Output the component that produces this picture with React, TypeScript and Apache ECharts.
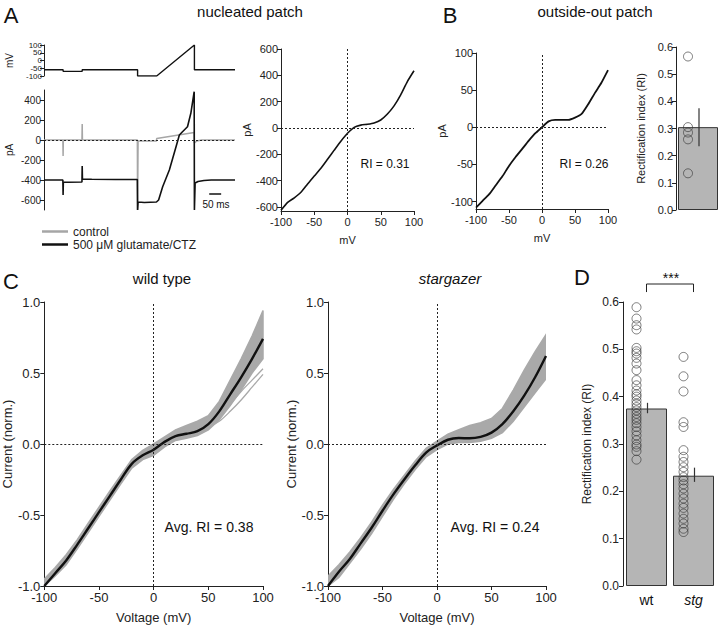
import React, { useEffect, useRef } from 'react';
import * as echarts from 'echarts';

const FONT = "'Liberation Sans', Arial, Helvetica, sans-serif";

// ---- Panel A: voltage protocol (time in ms, mV)
const PROTOCOL_T = [0, 80, 80, 160, 160, 392, 392, 472, 630, 630, 800];
const PROTOCOL_MV = [-60, -60, -70, -70, -60, -60, -100, -100, 100, -60, -60];
const PROTOCOL_TICKS_MAJOR = [-100, 0, 100];
const PROTOCOL_TICKS_MINOR = [-50, 50];

// ---- Panel A: current traces (time in ms, pA)
const CTRL_T = [0, 79, 80, 81, 159, 160, 161, 391, 392, 394, 471, 472, 629, 630, 640, 660, 800];
const CTRL_PA = [0, 0, -160, 0, 0, 160, 0, 0, -700, -10, -10, 15, 75, -30, -10, 0, 0];
const GLU_T = [0, 79, 80, 81, 100, 159, 160, 161, 200, 300, 391, 392, 394, 420, 471, 480, 497, 525, 553, 567, 580, 601, 615, 629, 630, 633, 645, 670, 700, 800];
const GLU_PA = [-400, -400, -550, -420, -422, -420, -260, -390, -392, -395, -395, -700, -620, -625, -620, -600, -467, -300, -67, 50, 83, 133, 267, 483, -700, -430, -415, -405, -400, -400];
const SCALE_BAR_T = [692, 742];
const SCALE_BAR_PA = -540;

// ---- I-V curves (mV)
const IV_V = [-100, -90, -80, -70, -60, -50, -40, -30, -20, -10, 0, 10, 20, 30, 40, 50, 60, 70, 80, 90, 100];
const A_IV_PA = [-625, -565, -530, -488, -425, -365, -305, -237, -168, -100, -40, 5, 22, 29, 39, 61, 106, 168, 252, 353, 435];
const B_IV_PA = [-108, -99, -90, -78, -66, -52, -40, -29, -18, -8, 0, 8, 10, 10, 10, 13, 18, 31, 46, 60, 77];

// ---- Panel B bar
const B_CATS = ['B'];
const B_MEAN = [0.305];
const B_ERR = [[0.235, 0.375]];
const B_RI = [0.565, 0.305, 0.285, 0.26, 0.135];

// ---- Panel C normalized I-V
const WT_MEAN = [-1.0, -0.91, -0.82, -0.71, -0.595, -0.48, -0.365, -0.25, -0.14, -0.08, -0.04, 0.015, 0.055, 0.072, 0.09, 0.14, 0.23, 0.35, 0.47, 0.6, 0.74];
const WT_LOW = [-1.0, -0.93, -0.85, -0.74, -0.625, -0.51, -0.395, -0.28, -0.17, -0.11, -0.08, -0.02, 0.025, 0.04, 0.06, 0.1, 0.17, 0.27, 0.38, 0.5, 0.6];
const WT_HIGH = [-0.95, -0.87, -0.78, -0.675, -0.56, -0.445, -0.33, -0.22, -0.11, -0.045, 0.0, 0.05, 0.1, 0.13, 0.16, 0.2, 0.3, 0.45, 0.6, 0.76, 0.94];
const WT_OUT_V = [40, 50, 60, 70, 80, 90, 100];
const WT_OUT1 = [0.1, 0.12, 0.16, 0.23, 0.31, 0.4, 0.49];
const WT_OUT2 = [0.11, 0.14, 0.2, 0.28, 0.37, 0.45, 0.53];

const STG_MEAN = [-1.0, -0.9, -0.81, -0.7, -0.59, -0.47, -0.355, -0.25, -0.15, -0.06, -0.01, 0.03, 0.042, 0.04, 0.05, 0.08, 0.14, 0.23, 0.34, 0.47, 0.62];
const STG_LOW = [-1.0, -0.94, -0.84, -0.74, -0.63, -0.51, -0.39, -0.28, -0.18, -0.09, -0.04, 0.0, 0.01, 0.01, 0.02, 0.04, 0.08, 0.16, 0.26, 0.36, 0.46];
const STG_HIGH = [-0.93, -0.85, -0.76, -0.66, -0.55, -0.43, -0.32, -0.22, -0.12, -0.03, 0.02, 0.07, 0.1, 0.13, 0.15, 0.18, 0.25, 0.38, 0.52, 0.65, 0.77];

// ---- Panel D
const D_CATS = ['wt', 'stg'];
const D_MEAN = [0.375, 0.233];
const D_ERR = [[0.365, 0.387], [0.22, 0.25]];
const WT_RI = [0.589, 0.565, 0.551, 0.542, 0.503, 0.496, 0.491, 0.482, 0.47, 0.456, 0.435, 0.424, 0.413, 0.405, 0.4, 0.392, 0.385, 0.378, 0.371, 0.364, 0.357, 0.351, 0.344, 0.336, 0.327, 0.318, 0.308, 0.299, 0.294, 0.285, 0.267];
const STG_RI = [0.484, 0.443, 0.411, 0.346, 0.336, 0.287, 0.273, 0.262, 0.251, 0.241, 0.23, 0.223, 0.215, 0.206, 0.195, 0.185, 0.174, 0.165, 0.153, 0.142, 0.132, 0.121, 0.114];
const BRACKET_Y = [0.621, 0.638];

const zip = (a: number[], b: number[]) => a.map((v, i) => [v, b[i]]);

function vAxis(grid: number, min: number, max: number, o: any = {}) {
  return {
    type: 'value',
    gridIndex: grid,
    min,
    max,
    interval: o.interval,
    position: o.position,
    show: o.show !== false,
    name: o.name,
    nameLocation: 'middle',
    nameGap: o.nameGap,
    nameTextStyle: { fontSize: o.nameSize || 11, color: '#222', fontFamily: FONT },
    axisLine: { show: o.line !== false, onZero: false, lineStyle: { color: '#222', width: 1 } },
    axisTick: { show: true, length: 4, lineStyle: { color: '#222', width: 1 }, customValues: o.ticks },
    axisLabel: {
      fontSize: o.fs || 11,
      lineHeight: o.lh,
      color: '#222',
      fontFamily: FONT,
      margin: o.margin ?? 3,
      customValues: o.ticks,
      formatter: o.fmt,
      showMinLabel: true,
      showMaxLabel: true,
      hideOverlap: false,
    },
    splitLine: { show: false },
  };
}

const zeroLines = (both: boolean) => ({
  symbol: ['none', 'none'],
  silent: true,
  label: { show: false },
  lineStyle: { type: [2, 2], color: '#222', width: 1 },
  data: both ? [{ yAxis: 0 }, { xAxis: 0 }] : [{ yAxis: 0 }],
});

function txt(text: string, x: number, y: number, size: number, extra: any = {}) {
  return {
    type: 'text',
    x,
    y,
    silent: true,
    style: {
      text,
      fontSize: size,
      fontFamily: FONT,
      fontWeight: 'normal',
      fill: '#111',
      align: 'center',
      verticalAlign: 'middle',
      textAlign: 'center',
      textVerticalAlign: 'middle',
      ...extra,
    },
  };
}

function band(idx: number, low: number[], high: number[]) {
  return {
    type: 'custom',
    xAxisIndex: idx,
    yAxisIndex: idx,
    silent: true,
    clip: true,
    z: 1,
    data: [[IV_V[0], low[0]]],
    renderItem: (_p: any, api: any) => {
      const up = IV_V.map((v, i) => api.coord([v, high[i]]));
      const dn = IV_V.map((v, i) => api.coord([v, low[i]])).reverse();
      return { type: 'polygon', shape: { points: up.concat(dn) }, style: { fill: '#a9a9a9', stroke: '#a9a9a9', lineWidth: 1.5 } };
    },
  };
}

function errBars(idx: number, cats: string[], err: number[][]) {
  return {
    type: 'custom',
    xAxisIndex: idx,
    yAxisIndex: idx,
    silent: true,
    z: 5,
    encode: { x: 0, y: [1, 2] },
    data: cats.map((c, i) => [c, err[i][0], err[i][1]]),
    renderItem: (_p: any, api: any) => {
      const x = api.value(0);
      const p1 = api.coord([x, api.value(1)]);
      const p2 = api.coord([x, api.value(2)]);
      return { type: 'line', shape: { x1: p1[0] + 1, y1: p1[1], x2: p2[0] + 1, y2: p2[1] }, style: { stroke: '#333', lineWidth: 1.2 } };
    },
  };
}

const circleStyle = { color: 'rgba(0,0,0,0)', borderColor: '#333', borderWidth: 0.8 };

function buildOption(): any {
  const grids = [
    { left: 44, top: 45, width: 191, height: 31 },
    { left: 44, top: 90, width: 191, height: 120 },
    { left: 281, top: 49, width: 133, height: 162 },
    { left: 476, top: 53, width: 132, height: 156 },
    { left: 676, top: 47, width: 44, height: 163 },
    { left: 44, top: 302, width: 219, height: 284 },
    { left: 328, top: 302, width: 218, height: 284 },
    { left: 623, top: 302, width: 94, height: 284 },
  ];
  const catAxis = (grid: number, data: string[], show: boolean) => ({
    type: 'category',
    gridIndex: grid,
    data,
    axisLine: { show: false },
    axisTick: { show: false },
    splitLine: { show: false },
    axisLabel: {
      show,
      margin: 7,
      color: '#111',
      formatter: (v: string) => (v === 'stg' ? '{i|stg}' : '{n|' + v + '}'),
      rich: { i: { fontStyle: 'italic', fontSize: 14, fontFamily: FONT, color: '#111' }, n: { fontSize: 14, fontFamily: FONT, color: '#111' } },
    },
  });
  const xAxis = [
    { ...vAxis(0, 0, 800), show: false },
    { ...vAxis(1, 0, 800), show: false },
    vAxis(2, -100, 100, { interval: 50, name: 'mV', nameGap: 23, margin: 5 }),
    vAxis(3, -100, 100, { interval: 50, name: 'mV', nameGap: 23, margin: 5 }),
    catAxis(4, B_CATS, false),
    vAxis(5, -100, 100, { interval: 50, name: 'Voltage (mV)', nameGap: 25, nameSize: 13, fs: 13, margin: 5 }),
    vAxis(6, -100, 100, { interval: 50, name: 'Voltage (mV)', nameGap: 25, nameSize: 13, fs: 13, margin: 5 }),
    catAxis(7, D_CATS, true),
  ];
  const cfmt = (v: number) => v.toFixed(1);
  const yAxis = [
    vAxis(0, -100, 100, { ticks: PROTOCOL_TICKS_MAJOR, position: 'left', name: 'mV', nameGap: 30, fs: 8, lh: 8, margin: 2, nameSize: 10 }),
    vAxis(1, -700, 500, { ticks: [-600, -400, -200, 0, 200, 400], name: 'pA', nameGap: 30, fs: 10, nameSize: 10 }),
    vAxis(2, -630, 600, { ticks: [-600, -400, -200, 0, 200, 400, 600], name: 'pA', nameGap: 23 }),
    vAxis(3, -110, 100, { ticks: [-100, -50, 0, 50, 100], name: 'pA', nameGap: 20 }),
    vAxis(4, 0, 0.6, { interval: 0.1, fmt: cfmt, name: 'Rectification index (RI)', nameGap: 30 }),
    vAxis(5, -1, 1, { interval: 0.5, fmt: cfmt, name: 'Current (norm.)', nameGap: 29, nameSize: 13, fs: 13, margin: 4 }),
    vAxis(6, -1, 1, { interval: 0.5, fmt: cfmt, name: 'Current (norm.)', nameGap: 29, nameSize: 13, fs: 13, margin: 4 }),
    vAxis(7, 0, 0.6, { interval: 0.1, fmt: cfmt, name: 'Rectification index (RI)', nameGap: 30, nameSize: 12, fs: 12, margin: 4 }),
    // second label set for the crowded protocol axis (same scale, same grid, same side)
    vAxis(0, -100, 100, { ticks: PROTOCOL_TICKS_MINOR, position: 'left', fs: 8, lh: 8, margin: 2, line: false }),
  ];

  const line = (idx: number, data: any[], color: string, width: number, extra: any = {}) => ({
    type: 'line',
    xAxisIndex: idx,
    yAxisIndex: idx,
    data,
    symbol: 'none',
    silent: true,
    lineStyle: { color, width },
    itemStyle: { color },
    ...extra,
  });

  const series: any[] = [
    line(0, zip(PROTOCOL_T, PROTOCOL_MV), '#111', 1.4),
    line(1, zip(CTRL_T, CTRL_PA), '#a6a6a6', 1.5, { name: 'control', markLine: zeroLines(false), z: 2 }),
    line(1, zip(GLU_T, GLU_PA), '#111', 1.6, { name: '500 μM glutamate/CTZ', z: 3 }),
    line(1, SCALE_BAR_T.map((t) => [t, SCALE_BAR_PA]), '#111', 1.3),
    line(2, zip(IV_V, A_IV_PA), '#111', 1.6, { smooth: 0.2, markLine: zeroLines(true) }),
    line(3, zip(IV_V, B_IV_PA), '#111', 1.8, { smooth: 0.2, markLine: zeroLines(true) }),
    {
      type: 'bar', xAxisIndex: 4, yAxisIndex: 4, data: B_MEAN, barWidth: 40, silent: true, z: 2,
      itemStyle: { color: '#b5b5b5', borderColor: '#333', borderWidth: 1 },
    },
    {
      type: 'scatter', xAxisIndex: 4, yAxisIndex: 4, data: B_RI.map((v) => [B_CATS[0], v]), symbol: 'circle', symbolSize: 9,
      symbolOffset: [-10, 0], itemStyle: circleStyle, silent: true, z: 3,
    },
    errBars(4, B_CATS, B_ERR),
    band(5, WT_LOW, WT_HIGH),
    line(5, zip(WT_OUT_V, WT_OUT1), '#a9a9a9', 1.3, { smooth: 0.3, z: 1 }),
    line(5, zip(WT_OUT_V, WT_OUT2), '#a9a9a9', 1.3, { smooth: 0.3, z: 1 }),
    line(5, zip(IV_V, WT_MEAN), '#111', 2.4, { smooth: 0.35, markLine: zeroLines(true), z: 3 }),
    band(6, STG_LOW, STG_HIGH),
    line(6, zip(IV_V, STG_MEAN), '#111', 2.4, { smooth: 0.35, markLine: zeroLines(true), z: 3 }),
    {
      type: 'bar', xAxisIndex: 7, yAxisIndex: 7, data: D_MEAN, barWidth: 41, silent: true, z: 2,
      itemStyle: { color: '#b5b5b5', borderColor: '#333', borderWidth: 1 },
    },
    {
      type: 'scatter', xAxisIndex: 7, yAxisIndex: 7, data: WT_RI.map((v) => [D_CATS[0], v]), symbol: 'circle', symbolSize: 9,
      symbolOffset: [-10, 0], itemStyle: circleStyle, silent: true, z: 3,
    },
    {
      type: 'scatter', xAxisIndex: 7, yAxisIndex: 7, data: STG_RI.map((v) => [D_CATS[1], v]), symbol: 'circle', symbolSize: 9,
      symbolOffset: [-10, 0], itemStyle: circleStyle, silent: true, z: 3,
    },
    errBars(7, D_CATS, D_ERR),
    line(7, [[D_CATS[0], BRACKET_Y[0]], [D_CATS[0], BRACKET_Y[1]], [D_CATS[1], BRACKET_Y[1]], [D_CATS[1], BRACKET_Y[0]]], '#222', 1, { clip: false }),
  ];

  return {
    animation: false,
    backgroundColor: '#fff',
    textStyle: { fontFamily: FONT },
    grid: grids,
    xAxis,
    yAxis,
    series,
    legend: {
      left: 37,
      top: 220,
      orient: 'vertical',
      icon: 'rect',
      itemWidth: 26,
      itemHeight: 2.5,
      itemGap: 0,
      selectedMode: false,
      data: ['control', '500 μM glutamate/CTZ'],
      textStyle: { fontSize: 12, color: '#222', fontFamily: FONT, lineHeight: 13 },
    },
    graphic: [
      txt('A', 11, 15, 22),
      txt('B', 450, 15, 22),
      txt('C', 11, 281, 22),
      txt('D', 582, 277, 22),
      txt('nucleated patch', 250, 11, 15),
      txt('outside-out patch', 595, 11, 15),
      txt('wild type', 162, 278, 15),
      txt('stargazer', 450, 278, 15, { fontStyle: 'italic' }),
      txt('RI = 0.31', 385, 164, 12),
      txt('RI = 0.26', 584, 164, 12),
      txt('Avg. RI = 0.38', 209, 527, 14),
      txt('Avg. RI = 0.24', 495, 527, 14),
      txt('50 ms', 216, 204, 10),
      txt('***', 671, 278, 14),
    ],
  };
}

export default function App() {
  const ref = useRef<HTMLDivElement>(null);
  useEffect(() => {
    const chart = echarts.init(ref.current as HTMLDivElement, null, { renderer: 'svg' });
    chart.setOption(buildOption());
    return () => chart.dispose();
  }, []);
  return (
    <div
      ref={ref}
      style={{ position: 'absolute', left: 0, top: 0, width: 720, height: 628, background: '#fff' }}
    />
  );
}
